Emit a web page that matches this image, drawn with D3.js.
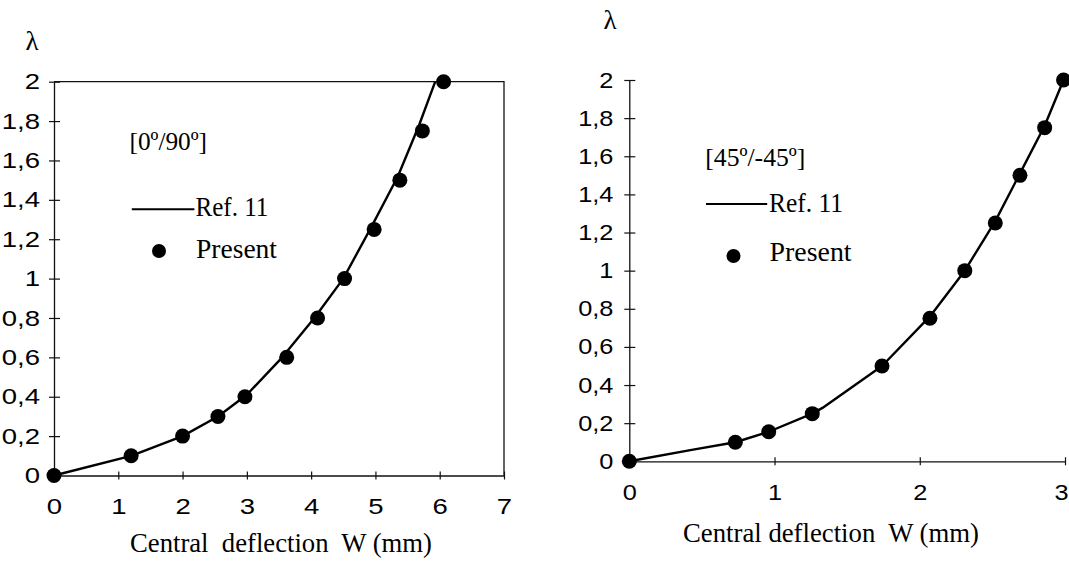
<!DOCTYPE html>
<html>
<head>
<meta charset="utf-8">
<script src="https://cdn.jsdelivr.net/npm/d3@7"></script>
<style>
  body { margin: 0; background: #fff; }
  svg { display: block; }
  .serif { font-family: "Liberation Serif", "Times New Roman", serif; fill: #000; }
</style>
</head>
<body>
<div id="chart"></div>
<script>
// tick values shared by both panels
var yTicks = [0, 0.2, 0.4, 0.6, 0.8, 1, 1.2, 1.4, 1.6, 1.8, 2];
var leftXTicks = [0, 1, 2, 3, 4, 5, 6, 7];
var rightXTicks = [0, 1, 2, 3];

// [0/90] panel
var leftPresentX = [0, 1.2, 2.0, 2.55, 2.97, 3.62, 4.1, 4.52, 4.98, 5.38, 5.73, 6.06];
var leftPresentY = [0, 0.1, 0.2, 0.3, 0.4, 0.6, 0.8, 1.0, 1.25, 1.5, 1.75, 2.0];
var leftRefX = [0, 1.2, 2.0, 2.55, 3.0, 3.55, 4.05, 4.5, 4.95, 5.35, 5.68, 5.93];
var leftRefY = [0, 0.1, 0.2, 0.3, 0.41, 0.6, 0.8, 1.0, 1.27, 1.52, 1.78, 2.0];

// [45/-45] panel
var rightPresentX = [0, 0.73, 0.96, 1.26, 1.74, 2.07, 2.31, 2.52, 2.69, 2.86, 2.99];
var rightPresentY = [0, 0.1, 0.155, 0.25, 0.5, 0.75, 1.0, 1.25, 1.5, 1.75, 2.0];
var rightRefX = [0, 0.43, 0.73, 0.96, 1.26, 1.33, 1.74, 2.07, 2.31, 2.52, 2.69, 2.86, 2.99];
var rightRefY = [0, 0.06, 0.1, 0.155, 0.25, 0.28, 0.5, 0.76, 1.0, 1.26, 1.51, 1.76, 2.0];

var svgWidth = 1069;
var svgHeight = 561;

var svg = d3.select("#chart")
  .append("svg")
  .attr("width", svgWidth)
  .attr("height", svgHeight);

var fmt = function(d) { return (+d.toFixed(1)).toString().replace(".", ","); };

function zip(xs, ys) {
  return xs.map(function(x, i) { return { x: x, y: ys[i] }; });
}

// stretch a text horizontally (the scanned digits are wide)
function widen(sel, k) {
  sel.each(function() {
    var w = this.getComputedTextLength();
    this.setAttribute("textLength", w * k);
    this.setAttribute("lengthAdjust", "spacingAndGlyphs");
  });
}

function drawPanel(p) {
  var x = d3.scaleLinear().domain([0, p.xMax]).range([p.x0, p.x1]);
  var y = d3.scaleLinear().domain([0, 2]).range([p.y0, p.y1]);
  var g = svg.append("g");

  // frame (left panel only)
  if (p.frame) {
    g.append("path")
      .attr("d", "M" + x(0) + "," + y(2) + "H" + x(p.xMax) + "V" + y(0))
      .attr("fill", "none")
      .attr("stroke", "#111")
      .attr("stroke-width", 1.3);
  }

  var xAxis = g.append("g")
    .attr("transform", "translate(0," + y(0) + ")")
    .call(d3.axisBottom(x).tickValues(p.xTicks).tickFormat(d3.format("d"))
      .tickSizeInner(4).tickSizeOuter(0).tickPadding(p.xPad));
  xAxis.selectAll(".tick line").attr("y1", -4);

  var yAxis = g.append("g")
    .attr("transform", "translate(" + x(0) + ",0)")
    .call(d3.axisLeft(y).tickValues(yTicks).tickFormat(fmt)
      .tickSizeInner(5).tickSizeOuter(0).tickPadding(p.yPad));
  yAxis.selectAll(".tick line").attr("x1", 6);

  [xAxis, yAxis].forEach(function(a) {
    a.attr("font-family", "Liberation Sans, Arial, sans-serif").attr("font-size", 22);
    a.select(".domain").attr("stroke", "#111").attr("stroke-width", 1.3);
    a.selectAll(".tick line").attr("stroke", "#111").attr("stroke-width", 1.2);
    a.selectAll(".tick text").attr("fill", "#000");
    widen(a.selectAll(".tick text"), p.digitStretch);
  });

  // last x label sits on the page edge, nudge it inside
  if (p.lastLabelShift) {
    xAxis.selectAll(".tick text")
      .filter(function(d) { return d === p.xMax; })
      .attr("dx", p.lastLabelShift);
  }

  // lambda label
  g.append("text")
    .attr("class", "serif")
    .attr("x", p.lambda[0])
    .attr("y", p.lambda[1])
    .attr("text-anchor", "middle")
    .attr("font-size", 27)
    .text("λ");

  // x title
  g.append("text")
    .attr("class", "serif")
    .attr("x", p.title[0])
    .attr("y", p.title[1])
    .attr("font-size", 27)
    .attr("textLength", p.title[2])
    .attr("lengthAdjust", "spacingAndGlyphs")
    .style("white-space", "pre")
    .text(p.titleText);

  // Ref. 11 curve
  var line = d3.line().x(function(d) { return x(d.x); }).y(function(d) { return y(d.y); });
  g.append("path")
    .datum(zip(p.refX, p.refY))
    .attr("d", line)
    .attr("fill", "none")
    .attr("stroke", "#000")
    .attr("stroke-width", 2.4)
    .attr("stroke-linejoin", "round");

  // Present points
  g.selectAll("circle.pt")
    .data(zip(p.presX, p.presY))
    .enter()
    .append("circle")
    .attr("class", "pt")
    .attr("cx", function(d) { return x(d.x); })
    .attr("cy", function(d) { return y(d.y); })
    .attr("r", 7.5)
    .attr("fill", "#000");

  // legend
  var L = p.legend;
  g.append("text").attr("class", "serif")
    .attr("x", L.label[0]).attr("y", L.label[1])
    .attr("font-size", 26)
    .attr("textLength", L.label[2]).attr("lengthAdjust", "spacingAndGlyphs")
    .text(p.labelText);
  g.append("line")
    .attr("x1", L.line[0]).attr("x2", L.line[1])
    .attr("y1", L.line[2]).attr("y2", L.line[2])
    .attr("stroke", "#000").attr("stroke-width", 2);
  g.append("text").attr("class", "serif")
    .attr("x", L.ref[0]).attr("y", L.ref[1])
    .attr("font-size", 27)
    .attr("textLength", L.ref[2]).attr("lengthAdjust", "spacingAndGlyphs")
    .text("Ref. 11");
  g.append("circle")
    .attr("cx", L.dot[0]).attr("cy", L.dot[1]).attr("r", 7)
    .attr("fill", "#000");
  g.append("text").attr("class", "serif")
    .attr("x", L.pres[0]).attr("y", L.pres[1])
    .attr("font-size", 27)
    .attr("textLength", L.pres[2]).attr("lengthAdjust", "spacingAndGlyphs")
    .text("Present");
}

drawPanel({
  x0: 54, x1: 504, y0: 475.5, y1: 81.7, xMax: 7,
  xTicks: leftXTicks, xPad: 19, yPad: 9, digitStretch: 1.25,
  frame: true,
  refX: leftRefX, refY: leftRefY, presX: leftPresentX, presY: leftPresentY,
  lambda: [32, 50],
  title: [130, 552, 302], titleText: "Central  deflection  W (mm)",
  labelText: "[0º/90º]",
  legend: {
    label: [129.5, 150, 77.5],
    line: [131.8, 194.4, 209.3],
    ref: [195.4, 216, 73],
    dot: [159, 251],
    pres: [196, 258, 81]
  }
});

drawPanel({
  x0: 629.3, x1: 1065, y0: 461.3, y1: 80, xMax: 3,
  xTicks: rightXTicks, xPad: 19, yPad: 11, digitStretch: 1.15,
  lastLabelShift: -4,
  frame: false,
  refX: rightRefX, refY: rightRefY, presX: rightPresentX, presY: rightPresentY,
  lambda: [610, 29],
  title: [683, 542, 296], titleText: "Central deflection  W (mm)",
  labelText: "[45º/-45º]",
  legend: {
    label: [705.3, 166, 100],
    line: [706, 767.2, 204],
    ref: [769, 212, 74],
    dot: [733.5, 256],
    pres: [769.6, 261, 82]
  }
});
</script>
</body>
</html>
